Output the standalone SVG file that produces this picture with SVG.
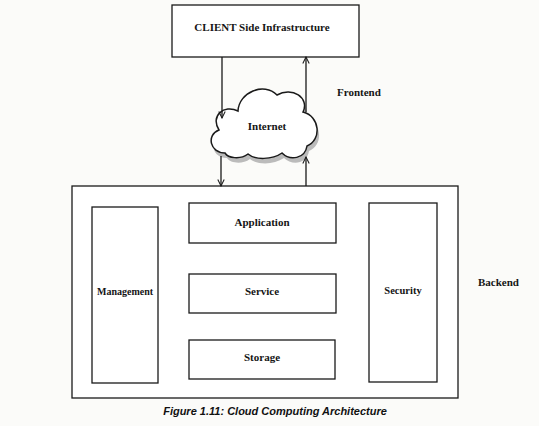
<svg xmlns="http://www.w3.org/2000/svg" width="539" height="426" viewBox="0 0 539 426">
<defs>
<style>
.box{fill:#fff;stroke:#1a1a1a;stroke-width:1.3}
.lbl{font-family:"Liberation Serif","DejaVu Serif",serif;font-size:11px;font-weight:bold;fill:#151515;text-anchor:middle;dominant-baseline:middle}
.side{font-family:"Liberation Serif","DejaVu Serif",serif;font-size:11px;fill:#151515;font-weight:bold}
.con{stroke:#1a1a1a;stroke-width:1.3;fill:none;marker-end:url(#arr)}
.cap{font-family:"Liberation Sans","DejaVu Sans",sans-serif;font-size:11px;font-weight:bold;font-style:italic;fill:#111;text-anchor:middle}
</style>
<marker id="arr" viewBox="0 0 10 10" refX="9" refY="5" markerWidth="8" markerHeight="8" orient="auto" markerUnits="userSpaceOnUse">
<polyline points="1,1 9,5 1,9" fill="none" stroke="#1a1a1a" stroke-width="1.3"/>
</marker>
</defs>
<rect width="539" height="426" fill="#fbfbf9"/>
<g id="client">
<rect class="box" x="172" y="5" width="187" height="52"/>
<text class="lbl" x="262" y="28">CLIENT Side Infrastructure</text>
</g>
<g id="internet">
<path d="M225,155 C210,155 206,137 219,132 C210,118 224,106 238,113 C239,94 264,84 277,97 C292,88 310,100 303,114 C320,118 322,142 307,148 C305,161 290,163 282,155 C272,162 255,162 248,156 C240,162 228,160 225,155 Z" fill="#bbb" transform="translate(2,3)"/>
<path d="M225,153 C210,153 206,135 219,130 C210,116 224,104 238,111 C239,92 264,82 277,95 C292,86 310,98 303,112 C320,116 322,140 307,146 C305,159 290,161 282,153 C272,160 255,160 248,154 C240,160 228,158 225,153 Z" fill="#fff" stroke="#1a1a1a" stroke-width="1.5"/>
<text class="lbl" x="267" y="127">Internet</text>
</g>
<g id="frontend"><text class="side" x="337" y="96">Frontend</text></g>
<g id="backend"><text class="side" x="478" y="286">Backend</text></g>
<g id="backend-box">
<rect class="box" x="72" y="186" width="386" height="212"/>
</g>
<g id="management">
<rect class="box" x="92" y="207" width="66" height="176"/>
<text class="lbl" x="125" y="293" style="font-size:10px">Management</text>
</g>
<g id="application">
<rect class="box" x="189" y="203" width="147" height="40"/>
<text class="lbl" x="262" y="223">Application</text>
</g>
<g id="service">
<rect class="box" x="189" y="274" width="147" height="39"/>
<text class="lbl" x="262" y="292">Service</text>
</g>
<g id="storage">
<rect class="box" x="189" y="340" width="146" height="39"/>
<text class="lbl" x="262" y="358">Storage</text>
</g>
<g id="security">
<rect class="box" x="369" y="203" width="68" height="179"/>
<text class="lbl" x="403" y="292" style="font-size:10.5px">Security</text>
</g>
<g id="connectors">
<line class="con" x1="222" y1="57" x2="222" y2="118"/>
<line class="con" x1="306" y1="112" x2="306" y2="57"/>
<line class="con" x1="221" y1="156" x2="221" y2="186"/>
<line class="con" x1="306" y1="186" x2="306" y2="157"/>
</g>
<text class="cap" x="275" y="415">Figure 1.11: Cloud Computing Architecture</text>
</svg>
